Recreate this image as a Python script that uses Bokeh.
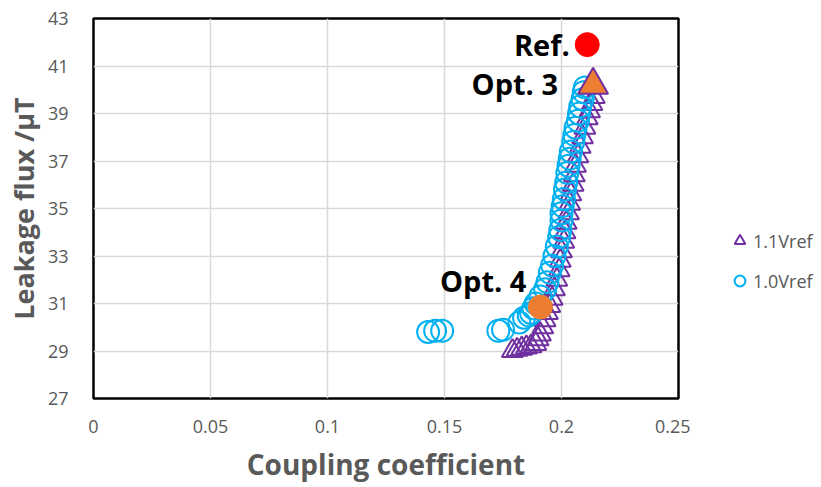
from bokeh.plotting import figure
from bokeh.layouts import row
from bokeh.models import Range1d, FixedTicker, Legend, LegendItem
from bokeh.core.properties import value
from bokeh.embed import file_html
from bokeh.resources import INLINE

# 1.0Vref series (coupling coefficient, leakage flux)
v10_x = [0.143, 0.146, 0.149, 0.173, 0.175, 0.182, 0.184, 0.186, 0.187, 0.188,
         0.189, 0.191, 0.193, 0.194, 0.195, 0.196, 0.197, 0.198, 0.199, 0.1995,
         0.200, 0.200, 0.2005, 0.201, 0.2015, 0.202, 0.2025, 0.203, 0.2035, 0.204,
         0.205, 0.2055, 0.206, 0.207, 0.2075, 0.208, 0.209, 0.2095, 0.210]
v10_y = [29.8, 29.85, 29.85, 29.85, 29.9, 30.2, 30.4, 30.5, 30.6, 30.8,
         31.0, 31.3, 31.6, 31.9, 32.3, 32.6, 33.0, 33.4, 33.8, 34.1,
         34.5, 34.8, 35.1, 35.4, 35.8, 36.1, 36.5, 36.8, 37.1, 37.4,
         37.8, 38.1, 38.4, 38.7, 39.0, 39.3, 39.6, 39.9, 40.1]

# 1.1Vref series
v11_x = [0.179, 0.181, 0.183, 0.185, 0.187, 0.189, 0.190, 0.191, 0.192, 0.193,
         0.194, 0.195, 0.196, 0.197, 0.198, 0.199, 0.1995, 0.200, 0.201, 0.2015,
         0.202, 0.203, 0.2035, 0.204, 0.205, 0.2055, 0.206, 0.207, 0.208, 0.209,
         0.210, 0.211, 0.212, 0.213, 0.214]
v11_y = [29.0, 29.05, 29.1, 29.15, 29.2, 29.3, 29.5, 29.7, 30.0, 30.3,
         30.6, 30.9, 31.2, 31.6, 32.0, 32.4, 32.8, 33.2, 33.6, 34.0,
         34.4, 34.8, 35.2, 35.6, 36.0, 36.4, 36.8, 37.2, 37.6, 38.0,
         38.4, 38.8, 39.1, 39.4, 39.7]

# highlighted points
ref_x, ref_y = [0.211], [41.9]
opt3_x, opt3_y = [0.2135], [40.2]
opt4_x, opt4_y = [0.191], [30.85]

label_text = ["Ref.", "Opt. 3", "Opt. 4"]
label_x = [0.2035, 0.1985, 0.185]
label_y = [41.9, 40.25, 31.95]

series_names = ["1.1Vref", "1.0Vref"]

x_ticks = [0, 0.05, 0.1, 0.15, 0.2, 0.25]
y_ticks = [27, 29, 31, 33, 35, 37, 39, 41, 43]

GRAY = "#595959"
FONT = "Open Sans"
PURPLE = "#7030A0"
BLUE = "#00B0F0"
ORANGE = "#ED7D31"

p = figure(width=690, height=486, output_backend="svg", toolbar_location=None,
           x_range=Range1d(0, 0.25), y_range=Range1d(27, 43))
p.min_border_left = 93
p.min_border_top = 18
p.min_border_bottom = 88
p.min_border_right = 12

p.outline_line_color = "black"
p.outline_line_width = 2.5

for ax in (p.xaxis[0], p.yaxis[0]):
    ax.axis_line_color = None
    ax.major_tick_line_color = None
    ax.minor_tick_line_color = None
    ax.major_label_text_color = GRAY
    ax.major_label_text_font = FONT
    ax.major_label_text_font_size = "18px"
    ax.axis_label_text_color = GRAY
    ax.axis_label_text_font = FONT
    ax.axis_label_text_font_style = "bold"

p.xaxis.axis_label_text_font_size = "28px"
p.yaxis.axis_label_text_font_size = "27px"
p.xaxis.ticker = FixedTicker(ticks=x_ticks)
p.yaxis.ticker = FixedTicker(ticks=y_ticks)
p.xaxis.major_label_overrides = {0: "0", 0.05: "0.05", 0.1: "0.1", 0.15: "0.15", 0.2: "0.2", 0.25: "0.25"}
p.xaxis.major_label_standoff = 15
p.yaxis.major_label_standoff = 19
p.xaxis.axis_label = "Coupling coefficient"
p.yaxis.axis_label = "Leakage flux /μT"
p.xaxis.axis_label_standoff = 9
p.yaxis.axis_label_standoff = 3

p.grid.grid_line_color = "#d9d9d9"
p.grid.grid_line_width = 1.5

p.scatter(v11_x, v11_y, marker="triangle", size=21, fill_color=None,
          line_color=PURPLE, line_width=2)
p.scatter(v10_x, v10_y, marker="circle", size=22, fill_color=None,
          line_color=BLUE, line_width=2)

p.scatter(ref_x, ref_y, marker="circle", size=24, fill_color="#FF0000", line_color="#FF0000")
p.scatter(opt3_x, opt3_y, marker="triangle", size=30, fill_color=ORANGE,
          line_color=PURPLE, line_width=2)
p.scatter(opt4_x, opt4_y, marker="circle", size=24, fill_color=ORANGE, line_color=ORANGE)

p.text(x=label_x, y=label_y, text=label_text, text_align="right", text_baseline="middle",
       text_font=value(FONT), text_font_style="bold", text_font_size="29px", text_color="black")

# legend panel to the right of the chart (proxy glyphs kept outside the visible range)
q = figure(width=125, height=486, output_backend="svg", toolbar_location=None,
           x_range=Range1d(0, 1), y_range=Range1d(0, 1),
           x_axis_location=None, y_axis_location=None)
q.min_border = 0
q.outline_line_color = None
q.grid.visible = False
lr11 = q.scatter([-5], [-5], marker="triangle", size=15, fill_color=None,
                 line_color=PURPLE, line_width=2)
lr10 = q.scatter([-5], [-5], marker="circle", size=14, fill_color=None,
                 line_color=BLUE, line_width=2)

legend = Legend(items=[LegendItem(label=series_names[0], renderers=[lr11]),
                       LegendItem(label=series_names[1], renderers=[lr10])],
                location=(36, 104))
legend.margin = 0
legend.padding = 2
legend.background_fill_alpha = 0
legend.border_line_color = None
legend.label_text_color = GRAY
legend.label_text_font = FONT
legend.label_text_font_size = "18px"
legend.glyph_width = 27
legend.glyph_height = 27
legend.spacing = 13
legend.label_standoff = 0
q.add_layout(legend)

layout = row(p, q)
open("out.html", "w").write(file_html(layout, INLINE))
